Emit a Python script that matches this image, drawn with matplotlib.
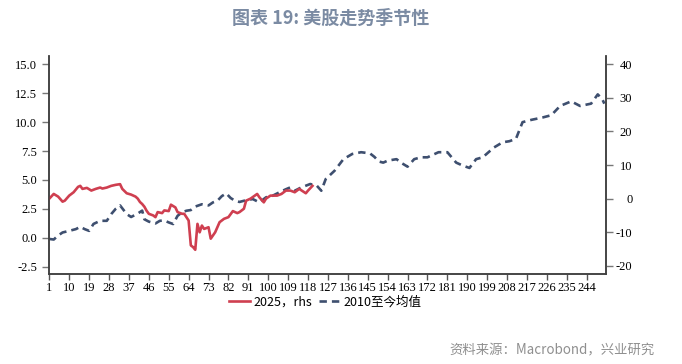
import matplotlib
matplotlib.use("Agg")
import matplotlib.pyplot as plt
import numpy as np

# ---- data ----
red_days = [1, 3, 5, 7, 8, 10, 12, 14, 15, 16, 18, 20, 22, 24, 25, 27, 29, 31, 33, 34,
            36, 38, 40, 41, 42, 43, 44, 45, 46, 48, 49, 50, 52, 53, 55, 56, 58, 59, 61, 62,
            64, 65, 66, 67, 68, 69, 70, 71, 73, 74, 76, 78, 80, 82, 84, 86, 87, 89, 90, 92,
            95, 96, 98, 99, 101, 104, 106, 108, 110, 112, 114, 117, 118, 120]
red_vals = [0.0, 1.4, 0.6, -0.9, -0.6, 0.9, 1.9, 3.5, 3.8, 2.9, 3.2, 2.4, 2.9, 3.3, 3.0, 3.3, 3.8, 4.1, 4.3, 2.9,
            1.6, 1.2, 0.6, 0.0, -1.0, -1.6, -2.4, -3.6, -4.5, -5.0, -5.5, -4.0, -4.3, -3.5, -3.7, -1.8, -2.6, -4.0, -4.5, -4.5,
            -6.5, -13.9, -14.4, -15.2, -7.5, -10.0, -8.0, -9.0, -8.5, -11.9, -10.0, -7.0, -6.0, -5.5, -3.7, -4.3, -4.0, -3.0, -0.6, 0.0,
            1.4, 0.4, -1.1, 0.0, 0.9, 0.9, 1.4, 2.4, 2.4, 1.9, 2.9, 1.6, 2.4, 3.8]

blue_days = [1, 3, 5, 7, 10, 13, 15, 17, 19, 21, 24, 27, 29, 31, 33, 36, 38, 41, 43, 44,
             46, 49, 51, 53, 55, 57, 59, 61, 63, 65, 67, 70, 73, 75, 77, 79, 81, 83, 85, 87,
             89, 93, 96, 99, 102, 105, 108, 110, 112, 115, 119, 122, 124, 126, 130, 134, 138, 142, 146, 148,
             150, 152, 154, 158, 160, 163, 166, 169, 172, 177, 181, 185, 188, 191, 194, 197, 202, 206, 209, 212,
             215, 219, 224, 228, 232, 237, 241, 246, 249, 251, 252]
blue_vals = [-0.1, -0.15, 0.2, 0.46, 0.6, 0.75, 0.95, 0.75, 0.6, 1.2, 1.47, 1.47, 2.05, 2.5, 2.8, 2.05, 1.8, 2.1, 2.35, 1.6,
             1.4, 1.24, 1.47, 1.5, 1.33, 1.19, 1.9, 2.2, 2.34, 2.4, 2.7, 2.9, 2.8, 3.06, 3.2, 3.6, 3.84, 3.44, 3.2, 3.1,
             3.2, 3.35, 3.06, 3.5, 3.64, 3.93, 4.2, 4.36, 4.07, 4.36, 4.65, 4.5, 4.07, 5.08, 5.8, 6.8, 7.25, 7.4, 7.3, 7.0,
             6.6, 6.5, 6.67, 6.8, 6.5, 6.15, 6.8, 6.96, 6.96, 7.4, 7.4, 6.5, 6.24, 6.04, 6.8, 6.96, 7.8, 8.26, 8.35, 8.55,
             10.0, 10.2, 10.4, 10.6, 11.4, 11.8, 11.4, 11.6, 12.4, 12.0, 11.6]

x_ticks = list(range(1, 245, 9))
left_ticks = [-2.5, 0.0, 2.5, 5.0, 7.5, 10.0, 12.5, 15.0]
right_ticks = [-20, -10, 0, 10, 20, 30, 40]

title = "图表 19: 美股走势季节性"
source = "资料来源：Macrobond，兴业研究"
label_red = "2025，rhs"
label_blue = "2010至今均值"

# ---- plot ----
plt.rcParams['font.family'] = ['Noto Sans CJK SC', 'DejaVu Sans']

fig = plt.figure(figsize=(6.82, 3.64), dpi=100)
ax = fig.add_axes([49.3 / 682, 1 - 274 / 364, (605.7 - 49.3) / 682, (274 - 56) / 364])
ax2 = ax.twinx()

red_c = '#cf3f50'
blue_c = '#3e4f6f'

lb, = ax.plot(blue_days, blue_vals, color=blue_c, lw=1.9, dashes=(2.8, 1.9),
              dash_capstyle='butt', label=label_blue)
lr, = ax2.plot(red_days, red_vals, color=red_c, lw=1.9, label=label_red)

ax.set_xlim(1, 252.6)
ax.set_ylim(-3.13, 15.72)
ax2.set_ylim(-22.4, 42.4)

ax.set_xticks(x_ticks)
ax.set_xticklabels([str(t) for t in x_ticks])
ax.set_yticks(left_ticks)
ax.set_yticklabels([f"{t:.1f}" for t in left_ticks])
ax2.set_yticks(right_ticks)
ax2.set_yticklabels([str(t) for t in right_ticks])

spine_c = '#404040'
for a in (ax, ax2):
    a.spines['top'].set_visible(False)
    for s in ('left', 'right', 'bottom'):
        a.spines[s].set_color(spine_c)
        a.spines[s].set_linewidth(1.1)

ax.tick_params(axis='x', direction='out', length=4.5, width=1.0, color='#555555', pad=1.5)
ax.tick_params(axis='y', direction='out', length=4.8, width=1.0, color='#777777', pad=4)
ax2.tick_params(axis='y', direction='out', length=4.8, width=1.0, color='#777777', pad=14.4)
for lab in ax.get_xticklabels() + ax.get_yticklabels():
    lab.set_fontfamily('Liberation Serif')
    lab.set_fontsize(9)
for lab in ax2.get_yticklabels():
    lab.set_fontfamily('Liberation Serif')
    lab.set_fontsize(9)
    lab.set_horizontalalignment('right')

fig.text(331 / 682, 1 - 18 / 364, title, ha='center', va='center', fontsize=13,
         fontweight='bold', color='#7b8ba3')
fig.text(655 / 682, 1 - 350 / 364, source, ha='right', va='center', fontsize=9.6,
         color='#8f8f8f')

leg = fig.legend(handles=[lr, lb], loc='center', bbox_to_anchor=(325 / 682, 1 - 302 / 364),
                 ncol=2, frameon=False, fontsize=9, handlelength=1.7, handletextpad=0.3,
                 columnspacing=0.5, borderaxespad=0)

fig.savefig('out.png', dpi=100)
